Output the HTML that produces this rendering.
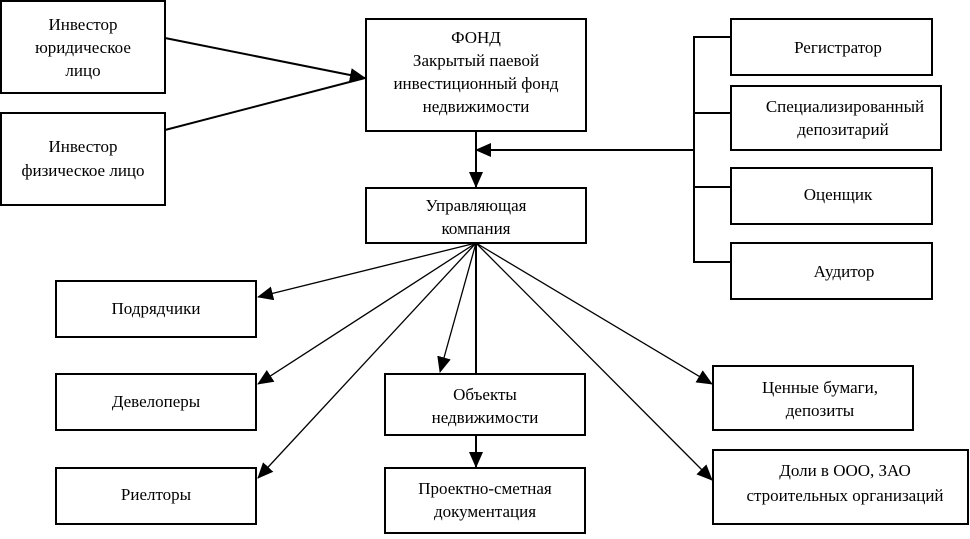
<!DOCTYPE html>
<html><head><meta charset="utf-8"><style>
body{margin:0;background:#fff;}
svg text{font-family:"Liberation Serif",serif;font-size:17px;fill:#000;text-anchor:middle;}
</style></head><body>
<svg width="970" height="534" viewBox="0 0 970 534" xmlns="http://www.w3.org/2000/svg">
<defs>
<marker id="a" markerWidth="10" markerHeight="10" refX="9" refY="5" orient="auto" markerUnits="userSpaceOnUse" viewBox="0 0 10 10"><path d="M0,0 L10,5 L0,10 z" fill="#000"/></marker>
<marker id="b" markerWidth="16" markerHeight="14" refX="15" refY="7" orient="auto" markerUnits="userSpaceOnUse" viewBox="0 0 16 14"><path d="M0,0 L16,7 L0,14 z" fill="#000"/></marker>
</defs>
<g fill="none" stroke="#000" stroke-width="2">
<rect x="1" y="1" width="164" height="92"/>
<rect x="1" y="113" width="164" height="92"/>
<rect x="366" y="19" width="220" height="112"/>
<rect x="366" y="188" width="220" height="55"/>
<rect x="731" y="19" width="201" height="56"/>
<rect x="731" y="86" width="210" height="64"/>
<rect x="731" y="168" width="201" height="56"/>
<rect x="731" y="243" width="201" height="56"/>
<rect x="56" y="281" width="200" height="56"/>
<rect x="56" y="374" width="200" height="56"/>
<rect x="56" y="468" width="200" height="56"/>
<rect x="385" y="374" width="200" height="61"/>
<rect x="385" y="468" width="200" height="65"/>
<rect x="713" y="366" width="200" height="64"/>
<rect x="713" y="450" width="255" height="74"/>
<polyline points="731,37 694,37 694,262 731,262"/>
<line x1="694" y1="113" x2="731" y2="113"/>
<line x1="694" y1="187" x2="731" y2="187"/>
<line x1="694" y1="150" x2="476" y2="150" marker-end="url(#b)"/>
<line x1="476" y1="131" x2="476" y2="187" marker-end="url(#b)"/>
<line x1="165" y1="38" x2="365" y2="78" marker-end="url(#b)"/>
<line x1="165" y1="130" x2="365" y2="78"/>
<line x1="476" y1="243" x2="476" y2="374"/>
<line x1="476" y1="435" x2="476" y2="467" marker-end="url(#b)"/>
</g>
<g stroke="#000" stroke-width="1.3">
<line x1="476" y1="243" x2="258" y2="297" marker-end="url(#b)"/>
<line x1="476" y1="243" x2="258" y2="384" marker-end="url(#b)"/>
<line x1="476" y1="243" x2="258" y2="478" marker-end="url(#b)"/>
<line x1="476" y1="243" x2="440" y2="372" marker-end="url(#b)"/>
<line x1="476" y1="243" x2="712" y2="384" marker-end="url(#b)"/>
<line x1="476" y1="243" x2="712" y2="480" marker-end="url(#b)"/>
</g>
<text x="83" y="30">Инвестор</text>
<text x="83" y="53">юридическое</text>
<text x="83" y="76">лицо</text>
<text x="83" y="152">Инвестор</text>
<text x="83" y="176">физическое лицо</text>
<text x="476" y="43">ФОНД</text>
<text x="476" y="66">Закрытый паевой</text>
<text x="476" y="89">инвестиционный фонд</text>
<text x="476" y="112">недвижимости</text>
<text x="476" y="211">Управляющая</text>
<text x="476" y="234">компания</text>
<text x="838" y="53">Регистратор</text>
<text x="845" y="112">Специализированный</text>
<text x="843" y="135">депозитарий</text>
<text x="838" y="200">Оценщик</text>
<text x="844" y="277">Аудитор</text>
<text x="156" y="314">Подрядчики</text>
<text x="156" y="407">Девелоперы</text>
<text x="156" y="500">Риелторы</text>
<text x="485" y="400">Объекты</text>
<text x="485" y="423">недвижимости</text>
<text x="485" y="494">Проектно-сметная</text>
<text x="485" y="517">документация</text>
<text x="820" y="393">Ценные бумаги,</text>
<text x="820" y="416">депозиты</text>
<text x="845" y="476">Доли в ООО, ЗАО</text>
<text x="845" y="501">строительных организаций</text>
</svg>
</body></html>
